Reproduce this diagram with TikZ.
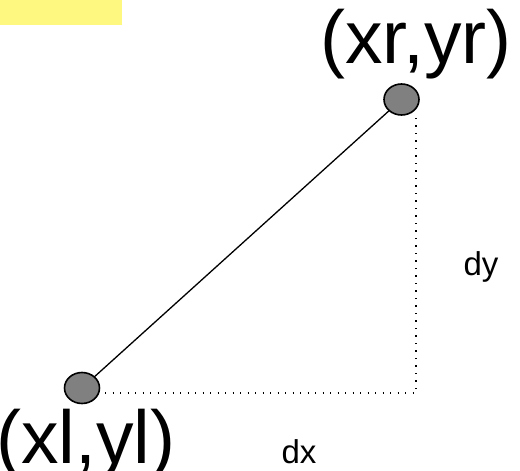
\documentclass[tikz,border=0pt]{standalone}
\usepackage{fontspec}
\setmainfont{Liberation Sans}
\usetikzlibrary{shapes.geometric}
\begin{document}
\begin{tikzpicture}[x=1pt,y=-1pt,
  pt/.style={ellipse,draw=black,line width=1.6pt,fill=black!50,minimum width=35pt,minimum height=31pt,inner sep=0pt},
  conn/.style={draw=black,line width=1.3pt},
  dotline/.style={draw=black,line width=1.5pt,dash pattern=on 1.3pt off 6.2pt},
  big/.style={font=\fontsize{75}{80}\selectfont,inner sep=0pt,anchor=base},
  small/.style={font=\fontsize{33}{38}\selectfont,inner sep=0pt,anchor=base}]
\useasboundingbox (0,0) rectangle (520,471);
\fill[yellow!50] (0,0) rectangle (122,25);
\coordinate (L) at (82,388);
\coordinate (R) at (401.5,99.5);
\coordinate (corner) at (416,393);
\coordinate (hstart) at (90,393);
\coordinate (vtop) at (416,118);
\draw[dotline] (hstart) -- (corner) -- (vtop);
\draw[conn] (L) -- (R);
\node[pt] (pl) at (L) {};
\node[pt] (pr) at (R) {};
\node[big] (tr) at (416,63) {(xr,yr)};
\node[big] (tl) at (86,463) {(xl,yl)};
\node[small] (dx) at (299,463) {dx};
\node[small] (dy) at (481,275) {dy};
\end{tikzpicture}
\end{document}
